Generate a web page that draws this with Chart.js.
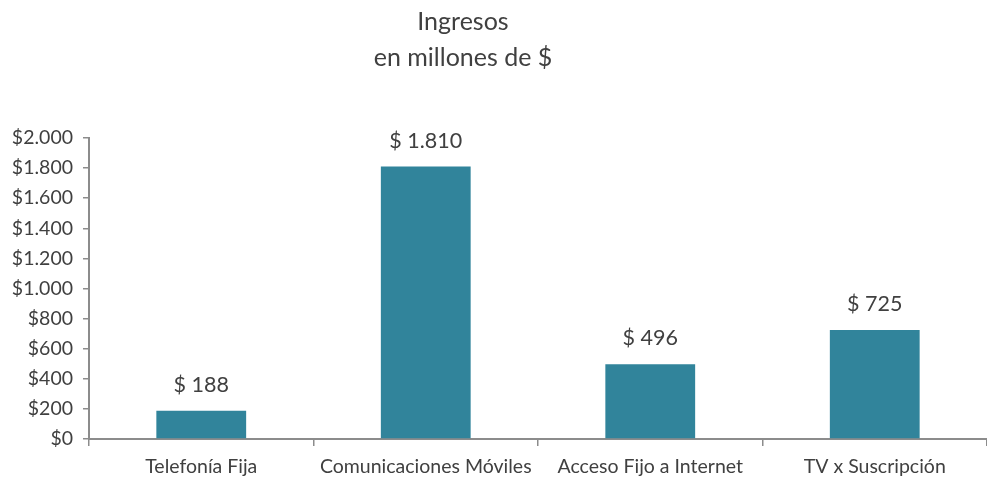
<!DOCTYPE html>
<html><head><meta charset="utf-8">
<script src="https://cdn.jsdelivr.net/npm/chart.js@4/dist/chart.umd.min.js"></script>
<style>html,body{margin:0;padding:0;background:#fff}#wrap{width:987px;height:477px}</style>
</head><body><div id="wrap"><canvas id="c"></canvas></div>
<script>
const categories = ["Telefonía Fija", "Comunicaciones Móviles", "Acceso Fijo a Internet", "TV x Suscripción"];
const ingresos = [188, 1810, 496, 725];
const dataLabels = ["$ 188", "$ 1.810", "$ 496", "$ 725"];
const titleLines = ["Ingresos", "en millones de $"];

const FONT = "Lato, 'Open Sans', sans-serif";
const TXT = "#404040";
const AX = "#8c8c8c";

const labelPlugin = {
  id: "barLabels",
  afterDatasetsDraw(chart) {
    const ctx = chart.ctx;
    const meta = chart.getDatasetMeta(0);
    ctx.save();
    ctx.font = "21.5px " + FONT;
    ctx.fillStyle = TXT;
    ctx.textAlign = "center";
    ctx.textBaseline = "middle";
    meta.data.forEach((bar, i) => {
      ctx.fillText(dataLabels[i], bar.x, bar.y - 26);
    });
    ctx.restore();
  }
};

const titlePlugin = {
  id: "offsetTitle",
  afterDraw(chart) {
    const ctx = chart.ctx;
    ctx.save();
    ctx.font = "25px " + FONT;
    ctx.fillStyle = TXT;
    ctx.textAlign = "center";
    ctx.textBaseline = "middle";
    const cx = chart.chartArea.left + 374;
    titleLines.forEach((t, i) => ctx.fillText(t, cx, 22 + i * 36));
    ctx.restore();
  }
};

new Chart(document.getElementById("c"), {
  type: "bar",
  data: {
    labels: categories,
    datasets: [{
      data: ingresos,
      backgroundColor: "#31849b",
      categoryPercentage: 0.4,
      barPercentage: 1.0
    }]
  },
  options: {
    responsive: true,
    maintainAspectRatio: false,
    animation: false,
    layout: { padding: { left: 1, right: -4, top: 138, bottom: 0 } },
    plugins: {
      legend: { display: false },
      tooltip: { enabled: false },
      title: { display: false }
    },
    scales: {
      x: {
        afterFit(s) { s.height = 38; },
        grid: { display: true, offset: true, drawOnChartArea: false, drawTicks: true, tickLength: 7, color: AX, lineWidth: 1.5 },
        border: { display: true, color: AX, width: 2 },
        ticks: { color: TXT, font: { family: FONT, size: 19.5, lineHeight: 1.2 }, padding: 9, maxRotation: 0, autoSkip: false }
      },
      y: {
        min: 0, max: 2000,
        afterFit(s) { s.width = 88; },
        grid: { display: true, drawOnChartArea: false, drawTicks: true, tickLength: 6, color: AX, lineWidth: 1.5 },
        border: { display: true, color: AX, width: 2 },
        ticks: {
          stepSize: 200,
          color: TXT,
          font: { family: FONT, size: 19.5 },
          padding: 10,
          callback: v => "$" + v.toLocaleString("de-DE")
        }
      }
    }
  },
  plugins: [labelPlugin, titlePlugin]
});
</script></body></html>
